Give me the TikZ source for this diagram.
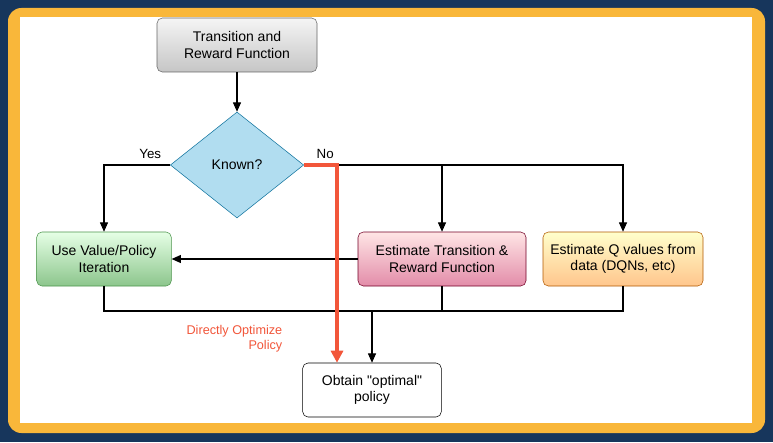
\documentclass[tikz,border=0pt]{standalone}
\usepackage{fontspec}
\setmainfont{Liberation Sans}
\usetikzlibrary{arrows.meta,positioning,shapes.geometric}
\definecolor{navy}{HTML}{17365C}
\definecolor{frameor}{HTML}{F9B73A}
\definecolor{grayedge}{HTML}{666666}
\definecolor{knownfill}{HTML}{B1DDF0}
\definecolor{knownedge}{HTML}{10739E}
\definecolor{redline}{HTML}{F2563A}
\tikzset{
  box/.style={rectangle,rounded corners=4pt,minimum width=#1,minimum height=40.5pt,
              align=center,font=\fontsize{10.5}{12.5}\selectfont},
  box/.default=101pt,
  link/.style={-{Triangle[length=7pt,width=6pt]},line width=0.8pt},
  plain/.style={line width=0.8pt}
}
\begin{document}
\begin{tikzpicture}[x=0.75pt,y=-0.75pt]
%
  \fill[navy] (0,0) rectangle (773,442);
  \fill[frameor,rounded corners=10pt] (8,8) rectangle (765,433);
  \fill[white] (20,17) rectangle (752,423);
%
  \node[box=120pt,draw=grayedge,top color=gray!8,bottom color=gray!45] (trf) at (237,45)
       {Transition and\\Reward Function};
  \node[diamond,draw=knownedge,fill=knownfill,minimum width=100pt,minimum height=79.5pt,
        inner sep=0pt,aspect=1.25,font=\fontsize{10.5}{12.5}\selectfont] (known) at (237,165) {Known?};
  \node[box,draw=green!40!black!70,top color=green!10,bottom color=green!50!black!45] (vpi) at (104,259)
       {Use Value/Policy\\Iteration};
  \node[box=126pt,draw=purple!60!black,top color=pink!40,bottom color=purple!45] (est) at (442,259)
       {Estimate Transition \&\\Reward Function};
  \node[box=120pt,draw=orange!70!black,top color=yellow!20,bottom color=orange!45] (qv) at (623,259)
       {Estimate Q values from\\data (DQNs, etc)};
  \node[box=104pt,draw=black,fill=white] (opt) at (372,390) {Obtain \textquotedbl optimal\textquotedbl\\policy};
%
  \coordinate (join) at (372,311);
  \coordinate (bend) at (337,165);
  \draw[link] (trf) -- (known);
  \draw[link] (known.west) -| (vpi) node[pos=0.15,above=1pt,font=\fontsize{10}{12}\selectfont] {Yes};
  \draw[link] (known.east) -| (qv);
  \draw[link] (known.east) -| (est);
  \node[above right=1pt and 6pt of known.east,font=\fontsize{10}{12}\selectfont] {No};
  \draw[link] (est) -- (vpi);
  \draw[plain] (vpi.south) |- (join) -| (qv.south);
  \draw[plain] (est.south) -- (est.south |- join);
  \draw[link] (join) -- (opt);
  \draw[-{Triangle[length=9pt,width=9pt]},redline,line width=2.4pt] (known.east) -- (bend) -- (bend |- opt.north);
  \node[text=redline,align=right,font=\fontsize{9.5}{11.5}\selectfont,anchor=east] (dop) at (287,339)
       {Directly Optimize\\Policy};
\end{tikzpicture}
\end{document}
